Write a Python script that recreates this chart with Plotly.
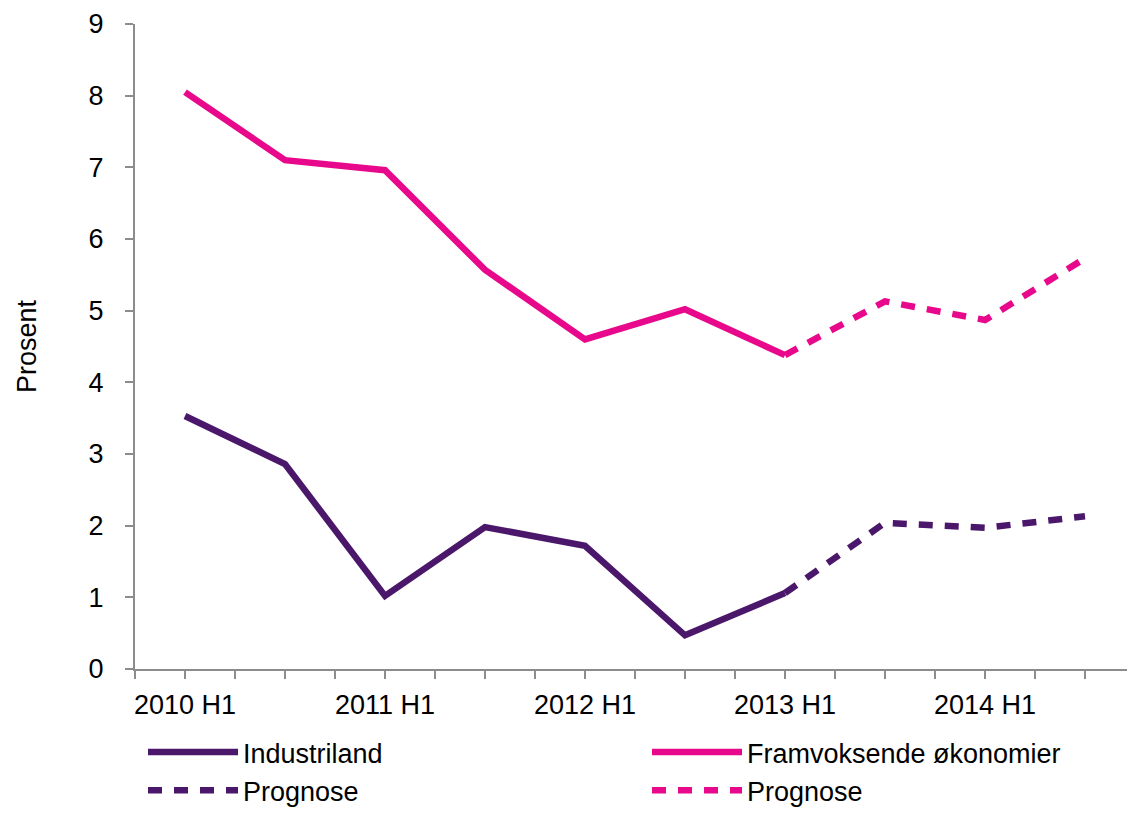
import plotly.graph_objects as go

categories = ["2010 H1", "2010 H2", "2011 H1", "2011 H2", "2012 H1", "2012 H2",
              "2013 H1", "2013 H2", "2014 H1", "2014 H2"]
industriland = [3.53, 2.86, 1.02, 1.98, 1.72, 0.47, 1.06, None, None, None]
industriland_prognose = [None, None, None, None, None, None, 1.06, 2.04, 1.97, 2.13]
framvoksende = [8.05, 7.10, 6.96, 5.57, 4.60, 5.02, 4.38, None, None, None]
framvoksende_prognose = [None, None, None, None, None, None, 4.38, 5.13, 4.87, 5.73]
y_ticks = [0, 1, 2, 3, 4, 5, 6, 7, 8, 9]

PURPLE = "#4B176B"
PINK = "#E8088B"
FONT = "Liberation Sans, Arial, sans-serif"
FS = 27
LW = 6.5
DASH = "14px,12px"

x = list(range(len(categories)))

fig = go.Figure()
fig.add_trace(go.Scatter(x=x, y=industriland, mode="lines", name="Industriland",
                         line=dict(color=PURPLE, width=LW), legend="legend"))
fig.add_trace(go.Scatter(x=x, y=industriland_prognose, mode="lines", name="Prognose",
                         line=dict(color=PURPLE, width=LW, dash=DASH), legend="legend"))
fig.add_trace(go.Scatter(x=x, y=framvoksende, mode="lines", name="Framvoksende økonomier",
                         line=dict(color=PINK, width=LW), legend="legend2"))
fig.add_trace(go.Scatter(x=x, y=framvoksende_prognose, mode="lines", name="Prognose",
                         line=dict(color=PINK, width=LW, dash=DASH), legend="legend2"))

tickvals = [i * 0.5 - 0.5 for i in range(2 * len(categories) + 1)]
ticktext = []
for v in tickvals:
    r = int(round(v))
    if abs(v - r) < 1e-9 and r % 2 == 0 and 0 <= r < len(categories):
        ticktext.append(categories[r])
    else:
        ticktext.append("")

# page body has an 8px margin; size the figure so it fits the 1135x815 window
OFF = 8
W = 1135 - OFF
H = 815 - OFF
T = 24 - OFF
L = 135 - OFF
PLOT_BOTTOM_PX = 669 - OFF
paper_h = H - T
dom_bottom = (H - PLOT_BOTTOM_PX) / paper_h

legend_common = dict(orientation="v", yanchor="bottom", xanchor="left", y=0.0,
                     font=dict(size=FS, family=FONT), itemwidth=90,
                     bgcolor="rgba(0,0,0,0)", tracegroupgap=0, traceorder="normal")

fig.update_layout(
    width=W, height=H,
    margin=dict(l=L, r=0, t=T, b=0),
    plot_bgcolor="white", paper_bgcolor="white",
    font=dict(family=FONT, size=FS, color="black"),
    showlegend=True,
    legend=dict(x=0.008, **legend_common),
    legend2=dict(x=0.512, **legend_common),
    xaxis=dict(range=[-0.5, len(categories) - 0.5], tickmode="array", automargin=False,
               tickvals=tickvals, ticktext=ticktext, ticks="outside", ticklen=8,
               tickcolor="#8C8C8C", tickwidth=2, showline=True, linecolor="#8C8C8C",
               linewidth=2, showgrid=False, zeroline=False, ticklabelstandoff=3,
               tickfont=dict(size=FS, family=FONT)),
    yaxis=dict(range=[0, 9], domain=[dom_bottom, 1], tickmode="array", tickvals=y_ticks,
               automargin=False,
               ticks="outside", ticklen=8, tickcolor="#8C8C8C", tickwidth=2,
               showline=True, linecolor="#8C8C8C", linewidth=2, showgrid=False,
               zeroline=False, ticklabelstandoff=16,
               tickfont=dict(size=FS, family=FONT),
               title=dict(text="Prosent", font=dict(size=FS, family=FONT), standoff=44)),
)

fig.write_html("out.html")
